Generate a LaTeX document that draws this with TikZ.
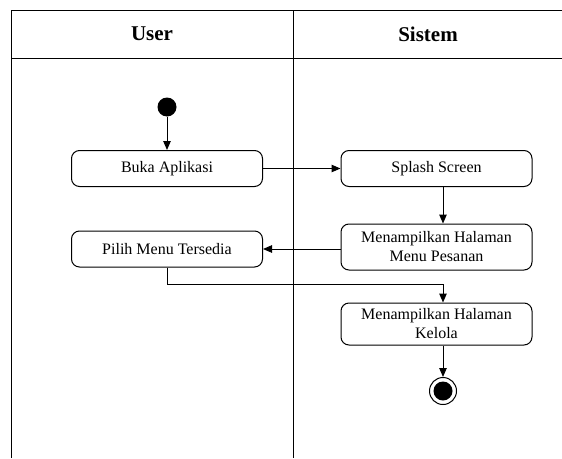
\documentclass[tikz,border=0pt]{standalone}
\usepackage{fontspec}
\setmainfont{Liberation Serif}
\usetikzlibrary{arrows.meta}
\begin{document}
\begin{tikzpicture}[x=1pt,y=-1pt,
  lane/.style={line width=1pt},
  action/.style={draw, line width=1pt, rounded corners=8pt, minimum width=191pt,
    minimum height=36pt, inner sep=0pt, align=center, font=\fontsize{16}{19}\selectfont},
  flow/.style={line width=1pt, -{Triangle[length=9pt,width=7.5pt]}},
  head/.style={font=\fontsize{21}{24}\selectfont\bfseries}]
\useasboundingbox (0,0) rectangle (562,458);

% swimlane frame
\draw[lane] (11,458) -- (11,10) -- (562,10);
\draw[lane] (11,58) -- (562,58);
\draw[lane] (293,10) -- (293,458);
\node[head] (huser) at (152,34) {User};
\node[head] (hsys) at (428,34) {Sistem};

% activities
\node[circle, fill=black, minimum size=19pt, inner sep=0pt] (start) at (167,107) {};
\node[action] (buka) at (167,168.5) {Buka Aplikasi};
\node[action] (splash) at (436.5,168.5) {Splash Screen};
\node[action, minimum height=46pt] (pesanan) at (436.5,247) {Menampilkan Halaman\\Menu Pesanan};
\node[action] (pilih) at (167,249) {Pilih Menu Tersedia};
\node[action, minimum height=42pt] (kelola) at (436.5,324) {Menampilkan Halaman\\Kelola};
\node[circle, draw, line width=1pt, minimum size=27pt, inner sep=0pt] (end) at (443,391) {};
\fill (end.center) circle (9.5pt);

\coordinate (col) at (443,0);
\coordinate (bend) at (0,284);

% control flow
\draw[flow] (start) -- (buka);
\draw[flow] (buka) -- (splash);
\draw[flow] (splash.south -| col) -- (pesanan.north -| col);
\draw[flow] (pesanan.west |- pilih) -- (pilih.east);
\draw[flow] (pilih.south) -- (pilih.south |- bend) -- (col |- bend) -- (kelola.north -| col);
\draw[flow] (kelola.south -| col) -- (end);
\end{tikzpicture}
\end{document}
